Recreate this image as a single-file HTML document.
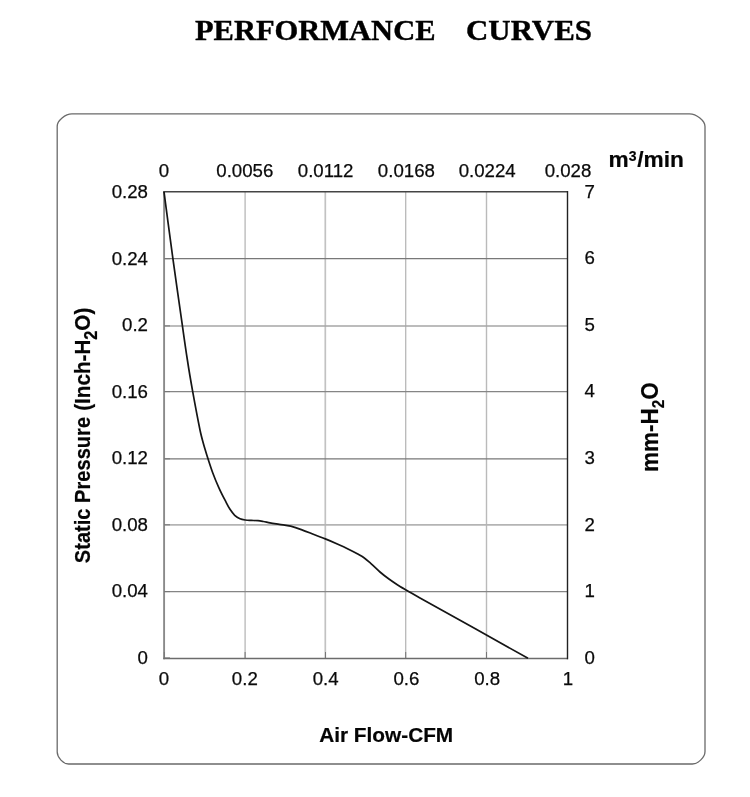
<!DOCTYPE html>
<html><head><meta charset="utf-8">
<style>
html,body{margin:0;padding:0;background:#fff;}
body{width:750px;height:797px;overflow:hidden;position:relative;}
svg{position:absolute;left:0;top:0;display:block;}
text{font-family:"Liberation Sans",Arial,sans-serif;fill:#0a0a0a;}
.t{font-family:"Liberation Serif","Times New Roman",serif;font-weight:bold;font-size:30.4px;fill:#000;stroke:#000;stroke-width:0.4px;}
.n{font-size:18.67px;stroke:#0a0a0a;stroke-width:0.25px;}
.b{font-size:21.3px;font-weight:bold;fill:#050505;stroke:#050505;stroke-width:0.2px;}
</style></head><body>
<svg width="750" height="797" viewBox="0 0 750 797">
<rect width="750" height="797" fill="#fff"/>
<text class="t" x="195" y="39.700" textLength="240.500" lengthAdjust="spacingAndGlyphs">PERFORMANCE</text>
<text class="t" x="466" y="39.700" textLength="126" lengthAdjust="spacingAndGlyphs">CURVES</text>
<path d="M71.9 113.9H689.5C696.5 113.9 705.0 120.8 705.0 126.4V751.4C705.0 757.1 698.1 764.0 692.4 764.0H68.5C63.4 764.0 57.2 757.5 57.2 752.1V126.1C57.2 120.6 65.3 113.9 71.9 113.9Z" fill="none" stroke="#6a6a6a" stroke-width="1.300"/>
<g fill="none">
<path stroke="#bcbcbc" stroke-width="1.400" d="M245.100 192V658"/>
<path stroke="#c2c2c2" stroke-width="1.700" d="M325.300 192V658"/>
<path stroke="#b8b8b8" stroke-width="1.300" d="M405.700 192V658"/>
<path stroke="#bababa" stroke-width="1.400" d="M486.500 192V658"/>
<path stroke="#787878" stroke-width="1.300" d="M164 258.700H568M164 458.800H568"/>
<path stroke="#858585" stroke-width="1.300" d="M164 391.600H568M164 591.600H568"/>
<path stroke="#a6a6a6" stroke-width="1.500" d="M164 325.900H568"/>
<path stroke="#b4b4b4" stroke-width="1.700" d="M164 524.800H568"/>
<path stroke="#8a8a8a" stroke-width="1.900" d="M164.100 191V659.200"/>
<path stroke="#6c6c6c" stroke-width="1.500" d="M163.300 658.400H568"/>
<path stroke="#444" stroke-width="1.600" d="M163.300 191.800H568"/>
<path stroke="#222" stroke-width="1.400" d="M567.500 191V659.300"/>
<path stroke="#777" stroke-width="1" d="M164 258.700h6M164 325.900h6M164 391.600h6M164 458.800h6M164 524.800h6M164 591.600h6M164 657.900h6M164.300 652v6M245.100 652v6M325.500 652v6M405.700 652v6M486.500 652v6"/>
</g>
<path id="curve" d="M164.0 191.8 C167.0 214.1 169.8 236.3 172.9 258.6 C176.0 281.0 179.2 303.3 182.4 325.7 C184.0 337.1 185.6 348.6 187.4 360.0 C189.0 370.6 190.8 381.1 192.7 391.6 C195.0 404.4 197.4 417.2 200.0 430.0 C200.9 434.5 202.1 438.9 203.3 443.3 C204.7 448.5 206.4 453.6 208.0 458.7 C209.5 463.4 211.0 468.1 212.7 472.7 C214.5 477.6 216.5 482.5 218.7 487.3 C220.7 491.8 223.0 496.3 225.3 500.7 C226.8 503.6 228.2 506.6 230.0 509.3 C231.4 511.4 232.9 513.6 234.7 515.3 C236.2 516.7 238.1 517.9 240.0 518.7 C241.6 519.4 243.5 519.7 245.3 520.0 C247.3 520.3 249.3 520.3 251.3 520.4 C253.5 520.5 255.8 520.5 258.0 520.7 C259.8 520.9 261.5 521.2 263.3 521.5 C265.5 521.9 267.8 522.5 270.0 522.9 C273.1 523.5 276.2 523.9 279.3 524.4 C283.1 525.0 287.0 525.3 290.7 526.2 C294.3 527.1 297.8 528.3 301.3 529.6 C305.3 531.0 309.3 532.7 313.3 534.3 C317.3 535.8 321.3 537.3 325.3 538.9 C329.3 540.5 333.3 542.2 337.3 544.0 C340.9 545.6 344.5 547.2 348.0 548.9 C351.1 550.4 354.2 552.0 357.3 553.7 C359.6 555.0 361.9 556.2 364.0 557.7 C366.4 559.4 368.5 561.4 370.7 563.3 C373.9 566.1 376.8 569.2 380.0 572.0 C383.0 574.6 386.1 577.0 389.3 579.3 C391.9 581.2 394.6 583.0 397.3 584.7 C400.2 586.5 403.1 588.3 406.0 590.0 C410.6 592.7 415.3 595.3 420.0 597.9 C456.0 618.0 492.0 638.2 528.0 658.3" fill="none" stroke="#151515" stroke-width="1.7" stroke-linejoin="round"/>
<g class="n" text-anchor="middle">
<text x="164" y="177">0</text><text x="244.800" y="177">0.0056</text><text x="325.600" y="177">0.0112</text><text x="406.400" y="177">0.0168</text><text x="487.200" y="177">0.0224</text><text x="568" y="177">0.028</text>
<text x="164" y="684.900">0</text><text x="244.800" y="684.900">0.2</text><text x="325.600" y="684.900">0.4</text><text x="406.400" y="684.900">0.6</text><text x="487.200" y="684.900">0.8</text><text x="568" y="684.900">1</text>
</g>
<g class="n" text-anchor="end">
<text x="148" y="197.9">0.28</text><text x="148" y="264.5">0.24</text><text x="148" y="331.0">0.2</text><text x="148" y="397.6">0.16</text><text x="148" y="464.2">0.12</text><text x="148" y="530.8">0.08</text><text x="148" y="597.3">0.04</text><text x="148" y="663.9">0</text>
</g>
<g class="n">
<text x="584.500" y="197.6">7</text><text x="584.500" y="264.2">6</text><text x="584.500" y="330.7">5</text><text x="584.500" y="397.3">4</text><text x="584.500" y="463.9">3</text><text x="584.500" y="530.5">2</text><text x="584.500" y="597.0">1</text><text x="584.500" y="663.6">0</text>
</g>
<text class="b" style="font-size:22.700px" x="608.500" y="167.400">m<tspan font-size="14" dy="-6.500" dx="0">3</tspan><tspan dy="6.500" dx="0.800">/min</tspan></text>
<text class="b" style="font-size:20.800px" text-anchor="middle" x="386.200" y="741.800">Air Flow-CFM</text>
<g transform="translate(90.200,0) rotate(-90)">
<text class="b" style="font-size:21.500px" x="-563.200" y="0" textLength="146.300" lengthAdjust="spacingAndGlyphs">Static Pressure</text>
<text class="b" style="font-size:22.200px" x="-410.800" y="0" textLength="103.100" lengthAdjust="spacingAndGlyphs">(Inch-H<tspan font-size="17.500" dy="6.500">2</tspan><tspan dy="-6.500">O)</tspan></text>
</g>
<text class="b" style="font-size:23.500px" x="-44.800" y="0" textLength="89.600" lengthAdjust="spacingAndGlyphs" transform="translate(658.300,427.100) rotate(-90)">mm-H<tspan font-size="16" dy="5.500">2</tspan><tspan dy="-5.500">O</tspan></text>
</svg>
</body></html>
